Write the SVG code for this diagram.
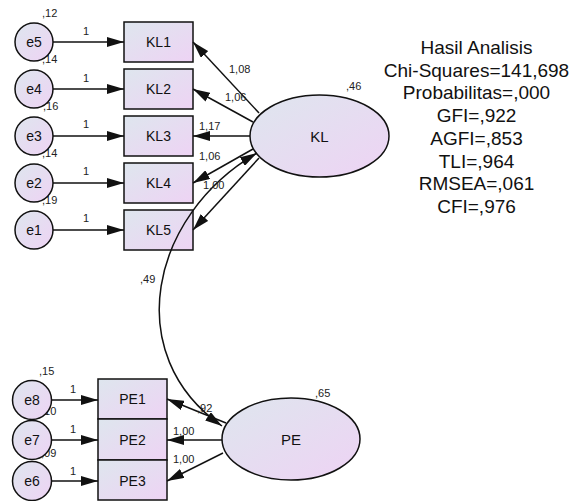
<svg xmlns="http://www.w3.org/2000/svg" width="574" height="501" viewBox="0 0 574 501">
<style>
.shape{fill:url(#g);stroke:#111;stroke-width:1.5}
.lbl{font-family:"Liberation Sans",Arial,sans-serif;fill:#111;text-anchor:middle;dominant-baseline:central}
.nl{font-size:14px}
.big{font-size:15px}
.sm{font-family:"Liberation Sans",Arial,sans-serif;font-size:11px;fill:#222}
.ln{fill:none;stroke:#111;stroke-width:1.5;marker-end:url(#arr)}
.fit{font-family:"Liberation Sans",Arial,sans-serif;font-size:19px;fill:#111;text-anchor:middle}
</style>
<defs>
<linearGradient id="g" x1="0" y1="0" x2="1" y2="1">
<stop offset="0" stop-color="#dee6ee"/>
<stop offset="1" stop-color="#eed3f4"/>
</linearGradient>
<marker id="arr" markerUnits="userSpaceOnUse" markerWidth="17" markerHeight="10" viewBox="0 0 17 10" refX="17" refY="5" orient="auto-start-reverse">
<path d="M0,0 L17,5 L0,10 z" fill="#111"/>
</marker>
</defs>
<rect width="574" height="501" fill="#fff"/>

<g id="e1"><circle class="shape" cx="34" cy="230" r="19"/><text class="lbl nl" x="34" y="230">e1</text><text class="sm" x="42" y="204">,19</text></g>
<g id="e2"><circle class="shape" cx="34" cy="183" r="19"/><text class="lbl nl" x="34" y="183">e2</text><text class="sm" x="42" y="157">,14</text></g>
<g id="e3"><circle class="shape" cx="34" cy="136" r="19"/><text class="lbl nl" x="34" y="136">e3</text><text class="sm" x="43" y="110">,16</text></g>
<g id="e4"><circle class="shape" cx="34" cy="89" r="19"/><text class="lbl nl" x="34" y="89">e4</text><text class="sm" x="42" y="63">,14</text></g>
<g id="e5"><circle class="shape" cx="34" cy="42" r="19"/><text class="lbl nl" x="34" y="42">e5</text><text class="sm" x="42" y="17">,12</text></g>

<g id="KL1"><rect class="shape" x="124" y="22" width="69" height="40"/><text class="lbl nl" x="158.5" y="42">KL1</text></g>
<g id="KL2"><rect class="shape" x="124" y="69" width="69" height="40"/><text class="lbl nl" x="158.5" y="89">KL2</text></g>
<g id="KL3"><rect class="shape" x="124" y="116" width="69" height="40"/><text class="lbl nl" x="158.5" y="136">KL3</text></g>
<g id="KL4"><rect class="shape" x="124" y="163" width="69" height="40"/><text class="lbl nl" x="158.5" y="183">KL4</text></g>
<g id="KL5"><rect class="shape" x="124" y="210" width="69" height="40"/><text class="lbl nl" x="158.5" y="230">KL5</text></g>

<g id="KL"><ellipse class="shape" cx="319.5" cy="136" rx="69.5" ry="41"/><text class="lbl big" x="319.5" y="136">KL</text><text class="sm" x="346" y="90">,46</text></g>

<g id="e6"><circle class="shape" cx="32" cy="481" r="19.5"/><text class="lbl nl" x="32" y="481">e6</text><text class="sm" x="41" y="457">,09</text></g>
<g id="e7"><circle class="shape" cx="32" cy="440" r="19.5"/><text class="lbl nl" x="32" y="440">e7</text><text class="sm" x="41" y="415">,10</text></g>
<g id="e8"><circle class="shape" cx="32" cy="400" r="19.5"/><text class="lbl nl" x="32" y="400">e8</text><text class="sm" x="39" y="375">,15</text></g>

<g id="PE1"><rect class="shape" x="98" y="379" width="69" height="40"/><text class="lbl nl" x="132.5" y="399">PE1</text></g>
<g id="PE2"><rect class="shape" x="98" y="419" width="69" height="41"/><text class="lbl nl" x="132.5" y="439.5">PE2</text></g>
<g id="PE3"><rect class="shape" x="98" y="460" width="69" height="40"/><text class="lbl nl" x="132.5" y="480.5">PE3</text></g>

<g id="PE"><ellipse class="shape" cx="291" cy="439" rx="69" ry="41"/><text class="lbl big" x="291" y="439">PE</text><text class="sm" x="315" y="397">,65</text></g>

<g id="connectors">
<line class="ln" x1="53" y1="42" x2="124" y2="42"/>
<line class="ln" x1="53" y1="89" x2="124" y2="89"/>
<line class="ln" x1="53" y1="136" x2="124" y2="136"/>
<line class="ln" x1="53" y1="183" x2="124" y2="183"/>
<line class="ln" x1="53" y1="230" x2="124" y2="230"/>
<line class="ln" x1="259" y1="113" x2="193" y2="42"/>
<line class="ln" x1="253" y1="122" x2="193" y2="89"/>
<line class="ln" x1="250" y1="136" x2="193" y2="136"/>
<line class="ln" x1="253" y1="149" x2="193" y2="183"/>
<line class="ln" x1="259" y1="158" x2="193" y2="230"/>
<line class="ln" x1="52" y1="400" x2="98" y2="400"/>
<line class="ln" x1="52" y1="440" x2="98" y2="440"/>
<line class="ln" x1="52" y1="481" x2="98" y2="481"/>
<line class="ln" x1="226" y1="423" x2="167" y2="399"/>
<line class="ln" x1="222" y1="440" x2="167" y2="440"/>
<line class="ln" x1="223" y1="453" x2="167" y2="481"/>
<path class="ln" style="marker-start:url(#arr)" d="M257,153 C150,215 120,355 222,426"/>
<text class="sm" x="83" y="35">1</text>
<text class="sm" x="83" y="82">1</text>
<text class="sm" x="83" y="128">1</text>
<text class="sm" x="83" y="175">1</text>
<text class="sm" x="83" y="222">1</text>
<text class="sm" x="229" y="73">1,08</text>
<text class="sm" x="225" y="101">1,06</text>
<text class="sm" x="199" y="130">1,17</text>
<text class="sm" x="199" y="160">1,06</text>
<text class="sm" x="203" y="189">1,00</text>
<text class="sm" x="140" y="283">,49</text>
<text class="sm" x="70" y="393">1</text>
<text class="sm" x="70" y="433">1</text>
<text class="sm" x="70" y="475">1</text>
<text class="sm" x="197" y="412">,92</text>
<text class="sm" x="173" y="435">1,00</text>
<text class="sm" x="173" y="463">1,00</text>
</g>

<g id="fit">
<text class="fit" x="476.5" y="54">Hasil Analisis</text>
<text class="fit" x="476.5" y="76.7">Chi-Squares=141,698</text>
<text class="fit" x="476.5" y="99.4">Probabilitas=,000</text>
<text class="fit" x="476.5" y="122.1">GFI=,922</text>
<text class="fit" x="476.5" y="144.8">AGFI=,853</text>
<text class="fit" x="476.5" y="167.5">TLI=,964</text>
<text class="fit" x="476.5" y="190.2">RMSEA=,061</text>
<text class="fit" x="476.5" y="212.9">CFI=,976</text>
</g>
</svg>
